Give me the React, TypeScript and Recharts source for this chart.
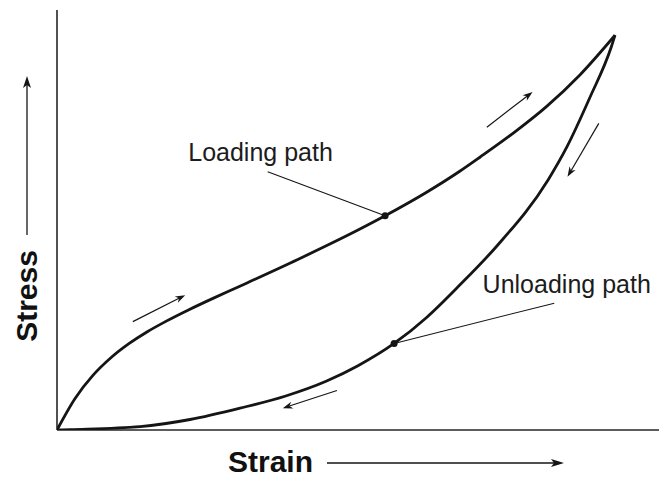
import { LineChart, Line, XAxis, YAxis, ReferenceLine, ReferenceDot } from 'recharts';

// strain / stress in arbitrary units (0-100 on both axes)
const loadingStrain = [0, 3, 6, 9, 12, 15, 18, 22, 26, 30, 40, 50, 54.5, 61.4, 66.9, 70.3, 75.8, 81.3, 86.9, 92.7];
const loadingStress = [0, 7.5, 13.05, 17.25, 20.6, 23.4, 25.8, 28.7, 31.4, 34.0, 40.6, 47.6, 51.0, 56.6, 61.6, 65.0, 70.7, 77.0, 84.6, 94.0];

const unloadingStrain = [0, 2.2, 13.8, 22.1, 30.4, 38, 44.7, 50, 56, 61.4, 66.9, 73, 81.6, 84.7, 88.5, 92.1, 92.7];
const unloadingStress = [0, 0.1, 0.8, 2.5, 5.2, 8.1, 11.6, 15.3, 20.6, 26.8, 34.5, 43.7, 59.6, 67.4, 79.1, 91.3, 94.0];

// direction arrows along the paths: [fromStrain, fromStress, toStrain, toStress]
const directionArrows = [
  [12.6, 25.8, 21.3, 32.1],
  [71.4, 72.1, 79.0, 80.5],
  [90.0, 73.0, 84.8, 60.3],
  [46.5, 9.4, 37.5, 5.2],
];

const pathLabels = ['Loading path', 'Unloading path'];
const labelAnchors = [[21.8, 64.0], [70.7, 32.6]];
const leaderStarts = [[35.0, 61.5], [82.6, 30.2]];
const leaderEnds = [[54.5, 51.0], [56.0, 20.6]];

const loadingData = loadingStrain.map((x, i) => ({ strain: x, stress: loadingStress[i] }));
const unloadingData = unloadingStrain.map((x, i) => ({ strain: x, stress: unloadingStress[i] }));

const FONT = '"Liberation Sans", Arial, Helvetica, sans-serif';
const INK = '#151515';

const ArrowShape = (props: any) => {
  const { x1, y1, x2, y2 } = props;
  const dx = x2 - x1;
  const dy = y2 - y1;
  const len = Math.sqrt(dx * dx + dy * dy) || 1;
  const ux = dx / len;
  const uy = dy / len;
  const hl = 10;
  const hw = 3.5;
  const bx = x2 - ux * hl;
  const by = y2 - uy * hl;
  const pts = `${x2},${y2} ${bx - uy * hw},${by + ux * hw} ${bx + ux * 3},${by + uy * 3} ${bx + uy * hw},${by - ux * hw}`;
  return (
    <g>
      <line x1={x1} y1={y1} x2={bx + ux * 3} y2={by + uy * 3} stroke={INK} strokeWidth={1.2} />
      <polygon points={pts} fill={INK} />
    </g>
  );
};

const LeaderShape = (props: any) => (
  <line x1={props.x1} y1={props.y1} x2={props.x2} y2={props.y2} stroke={INK} strokeWidth={1.1} />
);

const makeTextShape = (text: string) => (props: any) => (
  <text x={props.cx} y={props.cy} fontFamily={FONT} fontSize={25} fill="#1c1c1c">
    {text}
  </text>
);

export default function App() {
  return (
    <div style={{ position: 'absolute', left: 0, top: 0, width: 659, height: 477, background: '#fff' }}>
      <LineChart width={659} height={477} margin={{ top: 10, right: 0, bottom: 47, left: 57 }}>
        <XAxis type="number" dataKey="strain" domain={[0, 100]} allowDataOverflow hide />
        <YAxis type="number" dataKey="stress" domain={[0, 100]} allowDataOverflow hide />
        <ReferenceLine x={0} stroke="#262626" strokeWidth={1.6} />
        <ReferenceLine y={0} stroke="#262626" strokeWidth={1.6} />
        <Line
          data={loadingData}
          dataKey="stress"
          type="monotone"
          stroke={INK}
          strokeWidth={2.8}
          dot={false}
          activeDot={false}
          isAnimationActive={false}
        />
        <Line
          data={unloadingData}
          dataKey="stress"
          type="monotone"
          stroke={INK}
          strokeWidth={2.8}
          dot={false}
          activeDot={false}
          isAnimationActive={false}
        />
        {directionArrows.map((a, i) => (
          <ReferenceLine
            key={`arrow-${i}`}
            segment={[{ x: a[0], y: a[1] }, { x: a[2], y: a[3] }]}
            shape={ArrowShape}
          />
        ))}
        {leaderStarts.map((s, i) => (
          <ReferenceLine
            key={`leader-${i}`}
            segment={[{ x: s[0], y: s[1] }, { x: leaderEnds[i][0], y: leaderEnds[i][1] }]}
            shape={LeaderShape}
          />
        ))}
        {leaderEnds.map((e, i) => (
          <ReferenceDot key={`dot-${i}`} x={e[0]} y={e[1]} r={3.5} fill={INK} stroke="none" />
        ))}
        {pathLabels.map((t, i) => (
          <ReferenceDot
            key={`label-${i}`}
            x={labelAnchors[i][0]}
            y={labelAnchors[i][1]}
            r={0}
            shape={makeTextShape(t)}
          />
        ))}
      </LineChart>
      <svg width={659} height={477} style={{ position: 'absolute', left: 0, top: 0, pointerEvents: 'none' }}>
        <text
          x={37}
          y={296}
          transform="rotate(-90 37 296)"
          textAnchor="middle"
          fontFamily={FONT}
          fontWeight="bold"
          fontSize={30}
          fill="#111"
        >
          Stress
        </text>
        <line x1={27} y1={235} x2={27} y2={85} stroke={INK} strokeWidth={1.3} />
        <polygon points="27,76 23,88 27,85 31,88" fill={INK} />
        <text x={228} y={472} fontFamily={FONT} fontWeight="bold" fontSize={30} fill="#111">
          Strain
        </text>
        <line x1={327} y1={463} x2={554} y2={463} stroke={INK} strokeWidth={1.3} />
        <polygon points="564,463 551,459 554,463 551,467" fill={INK} />
      </svg>
    </div>
  );
}
